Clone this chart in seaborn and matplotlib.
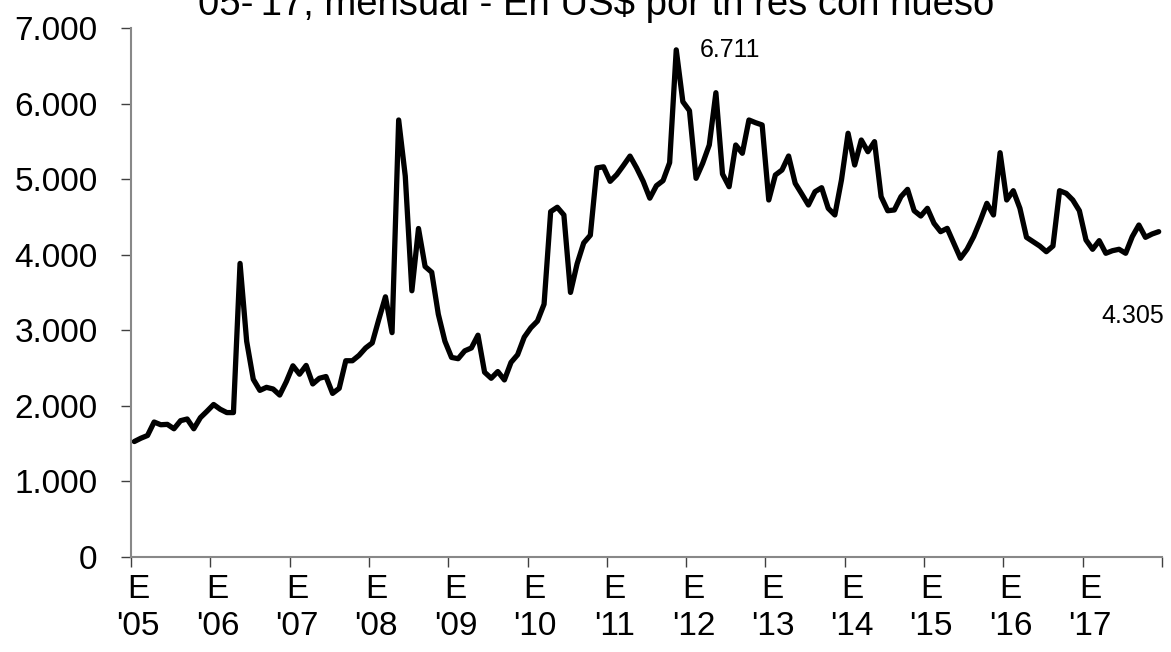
import numpy as np
import pandas as pd
import matplotlib
matplotlib.use("Agg")
import matplotlib.pyplot as plt
import seaborn as sns

# Precio mensual, US$ por tn res con hueso, ene-2005 a dic-2017
precios = [
    1528, 1572, 1608, 1786, 1750, 1755, 1697, 1804, 1826, 1697, 1844, 1929,   # 2005
    2018, 1955, 1911, 1911, 3885, 2855, 2352, 2205, 2245, 2223, 2143, 2320,   # 2006
    2530, 2419, 2535, 2290, 2365, 2388, 2165, 2232, 2597, 2597, 2668, 2766,   # 2007
    2833, 3145, 3443, 2969, 5783, 5040, 3523, 4347, 3844, 3768, 3212, 2855,   # 2008
    2641, 2624, 2728, 2766, 2935, 2445, 2365, 2454, 2343, 2575, 2677, 2909,   # 2009
    3033, 3122, 3345, 4570, 4628, 4526, 3501, 3880, 4156, 4258, 5149, 5163,   # 2010
    4971, 5060, 5180, 5305, 5149, 4971, 4748, 4913, 4980, 5218, 6711, 6025,   # 2011
    5906, 5011, 5210, 5452, 6144, 5068, 4900, 5452, 5342, 5783, 5747, 5717,   # 2012
    4724, 5055, 5121, 5306, 4945, 4803, 4658, 4834, 4887, 4614, 4526, 4989,   # 2013
    5607, 5187, 5518, 5363, 5496, 4768, 4582, 4592, 4768, 4865, 4582, 4512,   # 2014
    4614, 4416, 4305, 4349, 4151, 3953, 4072, 4239, 4450, 4680, 4526, 5350,   # 2015
    4724, 4847, 4614, 4230, 4172, 4115, 4040, 4115, 4847, 4812, 4724, 4582,   # 2016
    4195, 4072, 4186, 4019, 4053, 4072, 4019, 4239, 4393, 4230, 4274, 4305,   # 2017
]
anios = ["'05", "'06", "'07", "'08", "'09", "'10", "'11", "'12", "'13", "'14", "'15", "'16", "'17"]
etiquetas_x = ["E\n" + a for a in anios]
ticks_y = [0, 1000, 2000, 3000, 4000, 5000, 6000, 7000]
etiquetas_y = ["0", "1.000", "2.000", "3.000", "4.000", "5.000", "6.000", "7.000"]
titulo = "05-'17, mensual - En US$ por tn res con hueso"

df = pd.DataFrame({"mes": np.arange(len(precios)), "precio": precios})

sns.set_style("white")
plt.rcParams['font.family'] = ['Liberation Sans', 'DejaVu Sans']
plt.rcParams['text.color'] = 'black'
plt.rcParams['xtick.color'] = 'black'
plt.rcParams['ytick.color'] = 'black'

fig = plt.figure(figsize=(11.71, 6.52), dpi=100)
ax = fig.add_axes([131 / 1171, 1 - 557 / 652, (1162 - 131) / 1171, (557 - 28) / 652])

sns.lineplot(data=df, x="mes", y="precio", color="black", linewidth=3.8, ax=ax)

ax.set_xlim(-0.5, len(precios) - 0.5)
ax.set_ylim(0, 7000)
ax.set_xlabel("")
ax.set_ylabel("")

# ticks mayores en los limites de cada anio, etiquetas en enero
ax.set_xticks([-0.5 + 12 * k for k in range(len(anios) + 1)])
ax.set_xticklabels([])
ax.set_xticks([12 * k + 0.6 for k in range(len(anios))], minor=True)
ax.set_xticklabels(etiquetas_x, minor=True, fontsize=24, linespacing=1.25)
ax.tick_params(axis="x", which="major", direction="out", length=7, width=1, color="#404040", bottom=True)
ax.tick_params(axis="x", which="minor", length=0, pad=12, bottom=True, labelcolor="black")

ax.set_yticks(ticks_y)
ax.set_yticklabels(etiquetas_y, fontsize=24)
ax.tick_params(axis="y", direction="out", length=7, width=1, color="#404040", left=True, pad=17,
               labelcolor="black")

for lado in ["top", "right"]:
    ax.spines[lado].set_visible(False)
for lado in ["left", "bottom"]:
    ax.spines[lado].set_color("#888888")
    ax.spines[lado].set_linewidth(1.5)

# rotulos de valores
i_max = int(np.argmax(precios))
ax.annotate(f"{precios[i_max]:,}".replace(",", "."), xy=(i_max, precios[i_max]),
            xytext=(17, 0), textcoords="offset points", ha="left", va="center", fontsize=18)
ax.annotate(f"{precios[-1]:,}".replace(",", "."), xy=(len(precios) - 1, precios[-1]),
            xytext=(4, -61), textcoords="offset points", ha="right", va="center", fontsize=18)

fig.text(596 / 1171, 1 - 15 / 652, titulo, ha="center", va="baseline", fontsize=27.5)

fig.savefig("out.png", dpi=100)
